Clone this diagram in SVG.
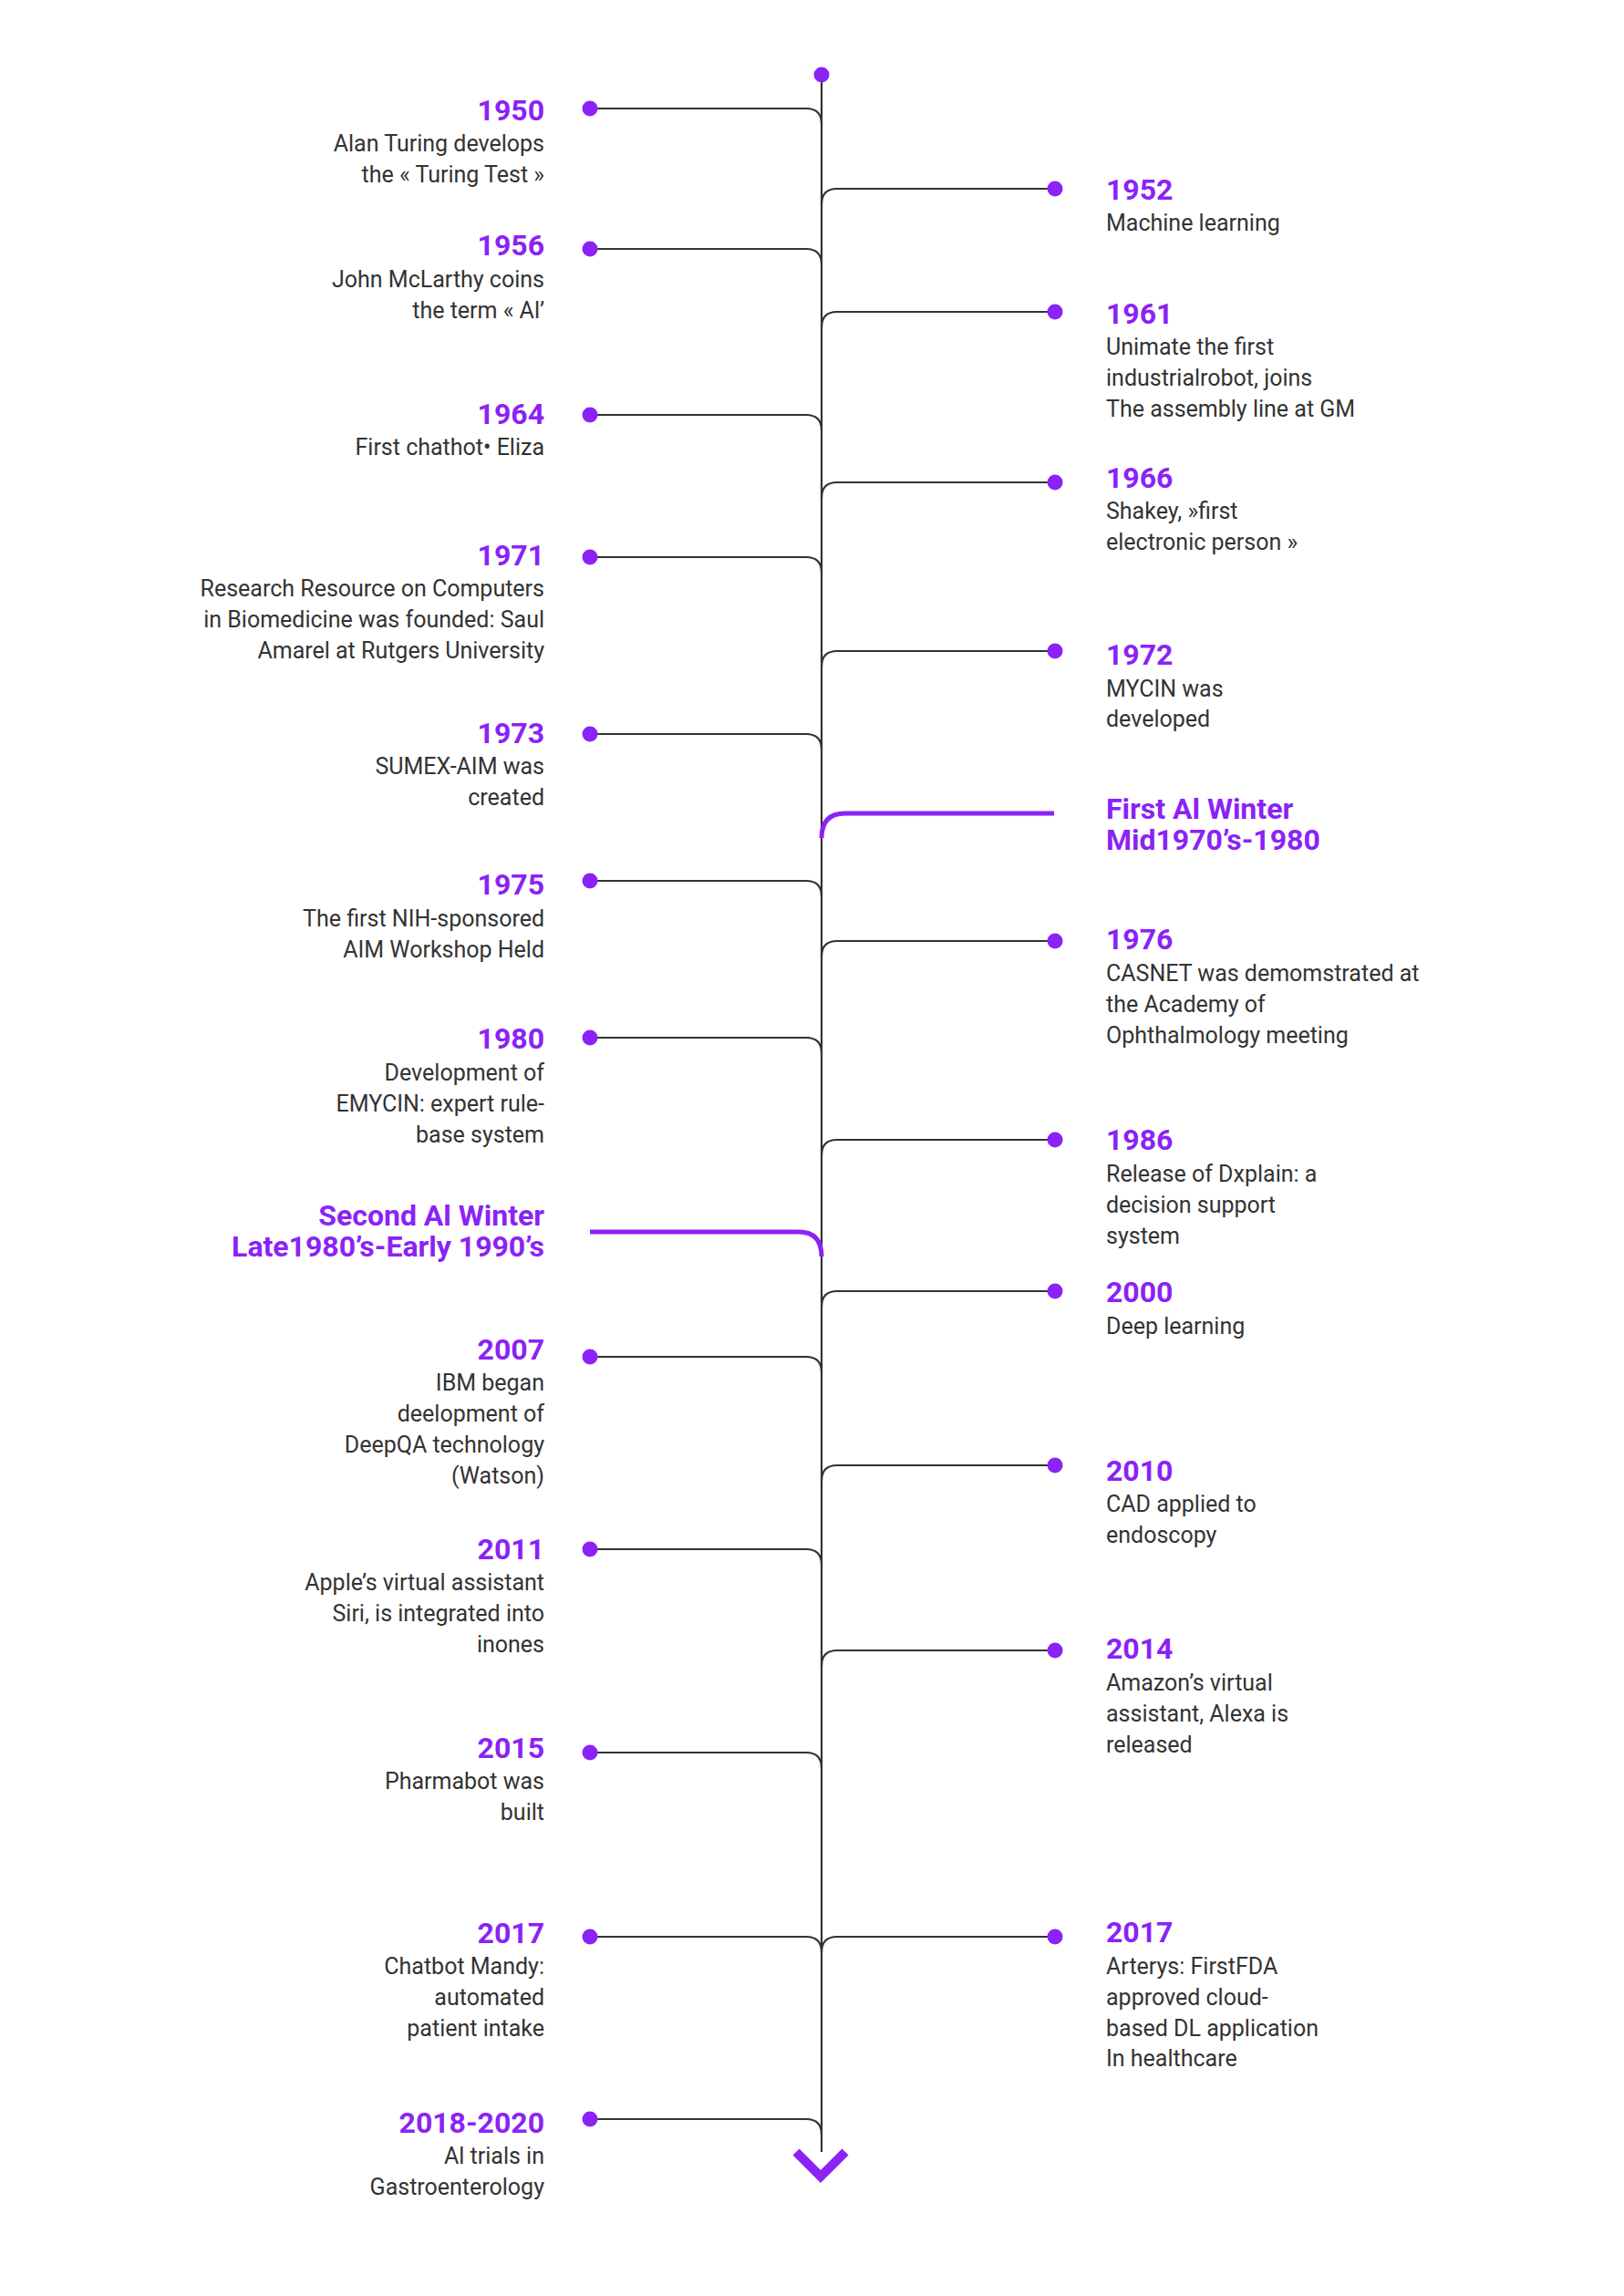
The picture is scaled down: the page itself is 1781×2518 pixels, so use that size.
<svg xmlns="http://www.w3.org/2000/svg" width="1781" height="2518" viewBox="0 0 1781 2518">
<style>
.yr{font-family:Roboto,"Liberation Sans",sans-serif;font-weight:700;font-size:32px;fill:#8B22F6}
.bd{font-family:Roboto,"Liberation Sans",sans-serif;font-weight:400;font-size:25px;fill:#333333}
.L{text-anchor:end}
.R{text-anchor:start}
.br{fill:none;stroke:#333333;stroke-width:2.2}
.win{fill:none;stroke:#8B22F6;stroke-width:5}
.dot{fill:#8B22F6}
</style>
<rect width="1781" height="2518" fill="#ffffff"/>
<g id="connectors">
  <line x1="901" y1="82" x2="901" y2="2360" stroke="#333333" stroke-width="2.2"/>
  <path class="br" d="M647 119 H884 Q901 119 901 136"/>
  <path class="br" d="M647 273 H884 Q901 273 901 290"/>
  <path class="br" d="M647 455 H884 Q901 455 901 472"/>
  <path class="br" d="M647 611 H884 Q901 611 901 628"/>
  <path class="br" d="M647 805 H884 Q901 805 901 822"/>
  <path class="br" d="M647 966 H884 Q901 966 901 983"/>
  <path class="br" d="M647 1138 H884 Q901 1138 901 1155"/>
  <path class="br" d="M647 1488 H884 Q901 1488 901 1505"/>
  <path class="br" d="M647 1699 H884 Q901 1699 901 1716"/>
  <path class="br" d="M647 1922 H884 Q901 1922 901 1939"/>
  <path class="br" d="M647 2124 H884 Q901 2124 901 2141"/>
  <path class="br" d="M647 2324 H884 Q901 2324 901 2341"/>
  <path class="br" d="M901 224 Q901 207 918 207 H1157"/>
  <path class="br" d="M901 359 Q901 342 918 342 H1157"/>
  <path class="br" d="M901 546 Q901 529 918 529 H1157"/>
  <path class="br" d="M901 731 Q901 714 918 714 H1157"/>
  <path class="br" d="M901 1049 Q901 1032 918 1032 H1157"/>
  <path class="br" d="M901 1267 Q901 1250 918 1250 H1157"/>
  <path class="br" d="M901 1433 Q901 1416 918 1416 H1157"/>
  <path class="br" d="M901 1624 Q901 1607 918 1607 H1157"/>
  <path class="br" d="M901 1827 Q901 1810 918 1810 H1157"/>
  <path class="br" d="M901 2141 Q901 2124 918 2124 H1157"/>
  <path class="win" d="M901 919 Q901 892 927 892 H1156"/>
  <path class="win" d="M647 1351 H876 Q901 1351 901 1378"/>
  <polyline points="873,2360 900,2387 927,2360" fill="none" stroke="#8B22F6" stroke-width="10" stroke-linejoin="miter"/>
</g>
<g id="start"><circle class="dot" cx="901" cy="82" r="8.5"/></g>

<g id="n1950"><circle class="dot" cx="647" cy="119" r="8.5"/>
<text class="yr L" x="597" y="132">1950</text>
<text class="bd L" x="597" y="166">Alan Turing develops</text>
<text class="bd L" x="597" y="199.5">the « Turing Test »</text></g>

<g id="n1952"><circle class="dot" cx="1157" cy="207" r="8.5"/>
<text class="yr R" x="1213" y="219">1952</text>
<text class="bd R" x="1213" y="253">Machine learning</text></g>

<g id="n1956"><circle class="dot" cx="647" cy="273" r="8.5"/>
<text class="yr L" x="597" y="280">1956</text>
<text class="bd L" x="597" y="315">John McLarthy coins</text>
<text class="bd L" x="597" y="348.5">the term « Al’</text></g>

<g id="n1961"><circle class="dot" cx="1157" cy="342" r="8.5"/>
<text class="yr R" x="1213" y="355">1961</text>
<text class="bd R" x="1213" y="389">Unimate the first</text>
<text class="bd R" x="1213" y="423">industrialrobot, joins</text>
<text class="bd R" x="1213" y="457">The assembly line at GM</text></g>

<g id="n1964"><circle class="dot" cx="647" cy="455" r="8.5"/>
<text class="yr L" x="597" y="465">1964</text>
<text class="bd L" x="597" y="499">First chathot• Eliza</text></g>

<g id="n1966"><circle class="dot" cx="1157" cy="529" r="8.5"/>
<text class="yr R" x="1213" y="535">1966</text>
<text class="bd R" x="1213" y="568.5">Shakey, »first</text>
<text class="bd R" x="1213" y="602.5">electronic person »</text></g>

<g id="n1971"><circle class="dot" cx="647" cy="611" r="8.5"/>
<text class="yr L" x="597" y="619.5">1971</text>
<text class="bd L" x="597" y="654">Research Resource on Computers</text>
<text class="bd L" x="597" y="688">in Biomedicine was founded: Saul</text>
<text class="bd L" x="597" y="722">Amarel at Rutgers University</text></g>

<g id="n1972"><circle class="dot" cx="1157" cy="714" r="8.5"/>
<text class="yr R" x="1213" y="729">1972</text>
<text class="bd R" x="1213" y="763.5">MYCIN was</text>
<text class="bd R" x="1213" y="797">developed</text></g>

<g id="n1973"><circle class="dot" cx="647" cy="805" r="8.5"/>
<text class="yr L" x="597" y="814.5">1973</text>
<text class="bd L" x="597" y="848.5">SUMEX-AIM was</text>
<text class="bd L" x="597" y="882.5">created</text></g>

<g id="winter1">
<text class="yr R" x="1213" y="898">First Al Winter</text>
<text class="yr R" x="1213" y="932">Mid1970’s-1980</text></g>

<g id="n1975"><circle class="dot" cx="647" cy="966" r="8.5"/>
<text class="yr L" x="597" y="981">1975</text>
<text class="bd L" x="597" y="1015.5">The first NIH-sponsored</text>
<text class="bd L" x="597" y="1049.5">AIM Workshop Held</text></g>

<g id="n1976"><circle class="dot" cx="1157" cy="1032" r="8.5"/>
<text class="yr R" x="1213" y="1041">1976</text>
<text class="bd R" x="1213" y="1076">CASNET was demomstrated at</text>
<text class="bd R" x="1213" y="1110">the Academy of</text>
<text class="bd R" x="1213" y="1144">Ophthalmology meeting</text></g>

<g id="n1980"><circle class="dot" cx="647" cy="1138" r="8.5"/>
<text class="yr L" x="597" y="1150">1980</text>
<text class="bd L" x="597" y="1184.5">Development of</text>
<text class="bd L" x="597" y="1218.5">EMYCIN: expert rule-</text>
<text class="bd L" x="597" y="1252.5">base system</text></g>

<g id="n1986"><circle class="dot" cx="1157" cy="1250" r="8.5"/>
<text class="yr R" x="1213" y="1261">1986</text>
<text class="bd R" x="1213" y="1296">Release of Dxplain: a</text>
<text class="bd R" x="1213" y="1330">decision support</text>
<text class="bd R" x="1213" y="1364">system</text></g>

<g id="winter2">
<text class="yr L" x="597" y="1344">Second Al Winter</text>
<text class="yr L" x="597" y="1378">Late1980’s-Early 1990’s</text></g>

<g id="n2000"><circle class="dot" cx="1157" cy="1416" r="8.5"/>
<text class="yr R" x="1213" y="1428">2000</text>
<text class="bd R" x="1213" y="1463">Deep learning</text></g>

<g id="n2007"><circle class="dot" cx="647" cy="1488" r="8.5"/>
<text class="yr L" x="597" y="1491">2007</text>
<text class="bd L" x="597" y="1525">IBM began</text>
<text class="bd L" x="597" y="1559">deelopment of</text>
<text class="bd L" x="597" y="1593">DeepQA technology</text>
<text class="bd L" x="597" y="1627">(Watson)</text></g>

<g id="n2010"><circle class="dot" cx="1157" cy="1607" r="8.5"/>
<text class="yr R" x="1213" y="1623.5">2010</text>
<text class="bd R" x="1213" y="1657.5">CAD applied to</text>
<text class="bd R" x="1213" y="1691.5">endoscopy</text></g>

<g id="n2011"><circle class="dot" cx="647" cy="1699" r="8.5"/>
<text class="yr L" x="597" y="1709.5">2011</text>
<text class="bd L" x="597" y="1744">Apple’s virtual assistant</text>
<text class="bd L" x="597" y="1778">Siri, is integrated into</text>
<text class="bd L" x="597" y="1812">inones</text></g>

<g id="n2014"><circle class="dot" cx="1157" cy="1810" r="8.5"/>
<text class="yr R" x="1213" y="1819">2014</text>
<text class="bd R" x="1213" y="1853.5">Amazon’s virtual</text>
<text class="bd R" x="1213" y="1887.5">assistant, Alexa is</text>
<text class="bd R" x="1213" y="1921.5">released</text></g>

<g id="n2015"><circle class="dot" cx="647" cy="1922" r="8.5"/>
<text class="yr L" x="597" y="1928">2015</text>
<text class="bd L" x="597" y="1962">Pharmabot was</text>
<text class="bd L" x="597" y="1996">built</text></g>

<g id="n2017L"><circle class="dot" cx="647" cy="2124" r="8.5"/>
<text class="yr L" x="597" y="2130.5">2017</text>
<text class="bd L" x="597" y="2165">Chatbot Mandy:</text>
<text class="bd L" x="597" y="2199">automated</text>
<text class="bd L" x="597" y="2233">patient intake</text></g>

<g id="n2017R"><circle class="dot" cx="1157" cy="2124" r="8.5"/>
<text class="yr R" x="1213" y="2130">2017</text>
<text class="bd R" x="1213" y="2164.5">Arterys: FirstFDA</text>
<text class="bd R" x="1213" y="2198.5">approved cloud-</text>
<text class="bd R" x="1213" y="2232.5">based DL application</text>
<text class="bd R" x="1213" y="2266">In healthcare</text></g>

<g id="n2018"><circle class="dot" cx="647" cy="2324" r="8.5"/>
<text class="yr L" x="597" y="2338.5">2018-2020</text>
<text class="bd L" x="597" y="2373">Al trials in</text>
<text class="bd L" x="597" y="2407">Gastroenterology</text></g>
</svg>
